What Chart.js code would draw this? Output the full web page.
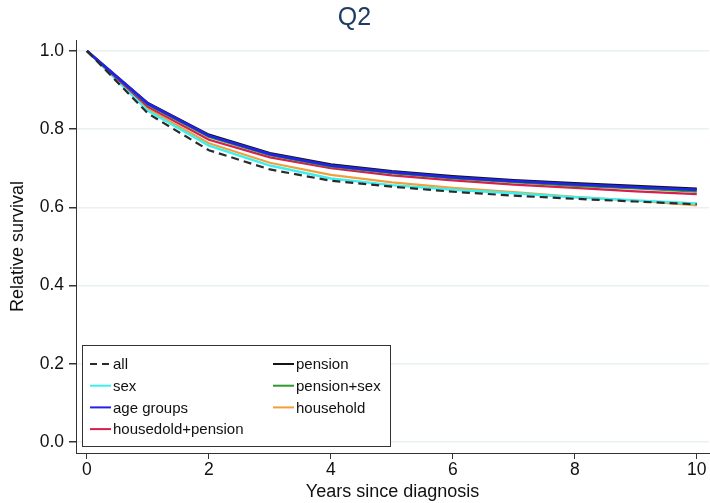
<!DOCTYPE html>
<html>
<head>
<meta charset="utf-8">
<title>Q2</title>
<script src="https://cdn.jsdelivr.net/npm/chart.js@4"></script>
<style>
  html, body { margin: 0; padding: 0; background: #fff; }
  #wrap { width: 710px; height: 503px; }
</style>
</head>
<body>
<div id="wrap"><canvas id="survChart"></canvas></div>
<script>
const years = [0, 1, 2, 3, 4, 5, 6, 7, 8, 9, 10];

// survival curves, one per model
const allRS       = [1, 0.840, 0.746, 0.697, 0.668, 0.653, 0.640, 0.630, 0.622, 0.615, 0.608];
const pensionRS   = [1, 0.867, 0.786, 0.739, 0.710, 0.693, 0.680, 0.670, 0.662, 0.655, 0.648];
const sexRS       = [1, 0.847, 0.758, 0.707, 0.674, 0.657, 0.645, 0.636, 0.626, 0.618, 0.610];
const pensSexRS   = [1, 0.862, 0.780, 0.733, 0.704, 0.687, 0.674, 0.664, 0.655, 0.648, 0.640];
const ageRS       = [1, 0.865, 0.783, 0.736, 0.707, 0.690, 0.677, 0.667, 0.659, 0.652, 0.645];
const householdRS = [1, 0.852, 0.764, 0.714, 0.683, 0.664, 0.650, 0.639, 0.627, 0.617, 0.605];
const housePensRS = [1, 0.857, 0.773, 0.728, 0.700, 0.682, 0.669, 0.658, 0.650, 0.641, 0.634];

const xTicks = [0, 2, 4, 6, 8, 10];
const yTicks = [0, 0.2, 0.4, 0.6, 0.8, 1.0];

const FONT = "'Liberation Sans', Arial, Helvetica, sans-serif";

// z: lower value is painted later (on top)
function series(label, values, color, z, width, dash) {
  return {
    label: label,
    data: years.map((x, i) => ({ x: x, y: values[i] })),
    borderColor: color,
    backgroundColor: color,
    borderWidth: width,
    borderDash: dash || [],
    order: z,
    pointRadius: 0,
    tension: 0,
    fill: false
  };
}

// array order = legend order, read row by row (two columns)
const datasets = [
  series("all", allRS, "#2a2a2a", 0, 2.2, [8, 5]),
  series("pension", pensionRS, "#141414", 3, 2.2),
  series("sex", sexRS, "#3cf0f0", 5, 2.4),
  series("pension+sex", pensSexRS, "#2f9a2f", 2, 2),
  series("age groups", ageRS, "#2323e6", 1, 2.8),
  series("household", householdRS, "#f2a03c", 6, 2.2),
  series("housedold+pension", housePensRS, "#d81e4c", 4, 2.2)
];

// boxed two-column legend inside the lower left of the plot
const boxLegend = {
  id: "boxLegend",
  afterDatasetsDraw(chart) {
    const ctx = chart.ctx;
    const area = chart.chartArea;
    const sets = chart.data.datasets;
    const w = 309, h = 102;
    const x0 = area.left + 6, y0 = area.bottom - 6 - h;
    ctx.save();
    ctx.fillStyle = "#fff";
    ctx.fillRect(x0, y0, w, h);
    ctx.strokeStyle = "#333";
    ctx.lineWidth = 1;
    ctx.strokeRect(x0 + 0.5, y0 + 0.5, w - 1, h - 1);
    ctx.font = "15px " + FONT;
    ctx.textBaseline = "middle";
    ctx.fillStyle = "#111";
    sets.forEach((ds, i) => {
      const col = i % 2, row = Math.floor(i / 2);
      const lx = x0 + 8 + col * 183;
      const ly = y0 + 19 + row * 21.7;
      ctx.strokeStyle = ds.borderColor;
      ctx.lineWidth = 2;
      ctx.setLineDash(ds.borderDash.length ? [7, 5] : []);
      ctx.beginPath();
      ctx.moveTo(lx, ly);
      ctx.lineTo(lx + 21, ly);
      ctx.stroke();
      ctx.setLineDash([]);
      ctx.fillText(ds.label, lx + 23, ly + 1);
    });
    ctx.restore();
  }
};

new Chart(document.getElementById("survChart"), {
  type: "line",
  data: { datasets: datasets },
  plugins: [boxLegend],
  options: {
    responsive: true,
    maintainAspectRatio: false,
    animation: false,
    layout: { padding: { left: 0, right: 1, top: 0, bottom: 0 } },
    plugins: {
      legend: { display: false },
      tooltip: { enabled: false },
      title: {
        display: true,
        text: "Q2",
        color: "#1d3b63",
        font: { family: FONT, size: 25, weight: "normal" },
        padding: { top: 3, bottom: 7 }
      }
    },
    scales: {
      x: {
        type: "linear",
        min: -0.18,
        max: 10.2,
        afterBuildTicks: s => { s.ticks = xTicks.map(v => ({ value: v })); },
        afterFit: s => { s.height = 50; },
        border: { color: "#333", width: 1 },
        grid: { drawOnChartArea: false, tickLength: 6, tickColor: "#333" },
        ticks: { color: "#111", padding: 1, font: { family: FONT, size: 17.5 } },
        title: {
          display: true,
          text: "Years since diagnosis",
          color: "#111",
          font: { family: FONT, size: 18 },
          padding: { top: 0, bottom: 0 }
        }
      },
      y: {
        min: -0.028,
        max: 1.028,
        afterBuildTicks: s => { s.ticks = yTicks.map(v => ({ value: v })); },
        afterFit: s => { s.width = 76; },
        border: { color: "#333", width: 1 },
        grid: { color: "#e8f0f1", lineWidth: 1.5, tickLength: 7, tickColor: "#333" },
        ticks: {
          color: "#111",
          padding: 5,
          font: { family: FONT, size: 17.5 },
          callback: v => v.toFixed(1)
        },
        title: {
          display: true,
          text: "Relative survival",
          color: "#111",
          font: { family: FONT, size: 18 },
          padding: { top: 7, bottom: 0 }
        }
      }
    }
  }
});
</script>
</body>
</html>
